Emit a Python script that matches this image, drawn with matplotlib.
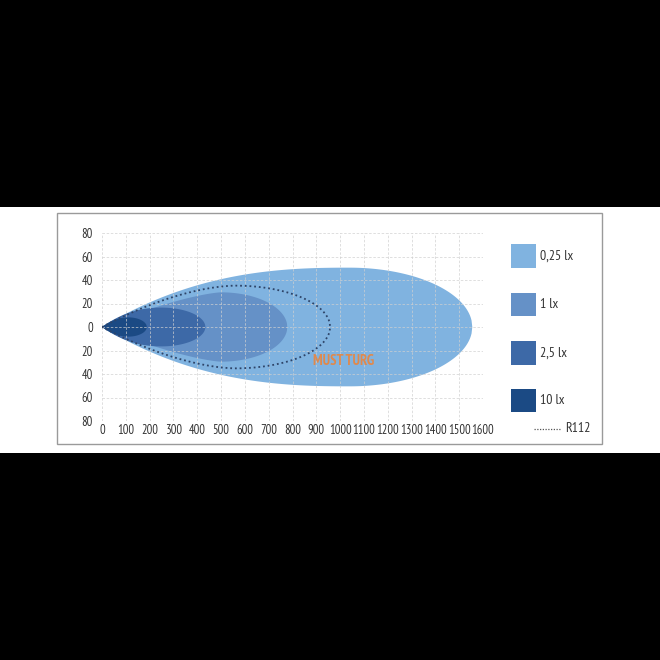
import numpy as np
import matplotlib
matplotlib.use("Agg")
import matplotlib.pyplot as plt
from matplotlib.patches import Rectangle
from matplotlib import font_manager

# ---- data ----
levels = ["0,25 lx", "1 lx", "2,5 lx", "10 lx"]
reach = [1555, 778, 434, 188]          # m, tip of each isolux zone
half_width = [50.5, 29.5, 16.5, 8.2]   # m, max half width
peak_at = [1040, 500, 250, 110]        # m, where the zone is widest
tip_shape = [2.5, 1.4, 2.2, 2.0]       # how fast each zone opens from the lamp
colors = ["#80b3e0", "#6591c7", "#3d69a7", "#1b4a84"]

r112_label = "R112"
r112_reach = 958
r112_half_width = 35.2
r112_peak = 560
r112_tip_shape = 1.7

watermark = "MUST TURG"

x_ticks = list(range(0, 1601, 100))
y_ticks = [-80, -60, -40, -20, 0, 20, 40, 60, 80]
y_tick_labels = ["80", "60", "40", "20", "0", "20", "40", "60", "80"]

entries = font_manager.fontManager.ttflist
def pick(cands, default="Roboto"):
    for c in cands:
        if any(f.name == c and f.weight in (400, "normal", "regular") and f.style == "normal"
               for f in entries):
            return c
    return default

narrow = pick(["PT Sans Narrow", "Roboto"])
is_narrow = narrow == "PT Sans Narrow"
tick_size = 9.0 if is_narrow else 7.0
leg_size = 10.0 if is_narrow else 8.0
plt.rcParams["font.family"] = [narrow, "DejaVu Sans"]

def outline(L, W, P, n, npts=500):
    t = np.linspace(0, 1, npts)
    p = P / L
    g = np.where(t <= p,
                 1 - (1 - np.clip(t / p, 0, 1)) ** n,
                 np.sqrt(np.clip(1 - ((t - p) / (1 - p)) ** 2, 0, 1)))
    x = L * t
    y = W * g
    xs = np.concatenate([x, x[::-1]])
    ys = np.concatenate([y, -y[::-1]])
    return xs, ys

fig = plt.figure(figsize=(6.6, 6.6), dpi=100, facecolor="black")

fig.add_artist(Rectangle((0, 1 - 453 / 660), 1, 246 / 660, transform=fig.transFigure,
                         facecolor="white", edgecolor="none", zorder=-2))
fig.add_artist(Rectangle((57 / 660, 1 - 444 / 660), 545 / 660, 231 / 660, transform=fig.transFigure,
                         facecolor="white", edgecolor="#9a9a9a", lw=1.0, zorder=-1))

ax = fig.add_axes([102 / 660, 1 - 421 / 660, 381 / 660, 188 / 660])
ax.set_zorder(5)
ax.set_facecolor("none")
ax.set_xlim(0, 1600)
ax.set_ylim(-80, 80)

for L, W, P, n, c in zip(reach, half_width, peak_at, tip_shape, colors):
    xs, ys = outline(L, W, P, n)
    ax.fill(xs, ys, color=c, lw=0, zorder=2)

xs, ys = outline(r112_reach, r112_half_width, r112_peak, r112_tip_shape)
ax.plot(xs, ys, color="#2e4468", lw=1.3, linestyle=(0, (1, 1.6)), zorder=4)

ax.text(888, -28.7, watermark, color="#e0894c", fontsize=10.5, fontweight="bold",
        ha="left", va="center", zorder=5)

ax.set_xticks(x_ticks)
ax.set_xticklabels([str(v) for v in x_ticks])
ax.set_yticks(y_ticks)
ax.set_yticklabels(y_tick_labels)
ax.tick_params(length=0, labelsize=tick_size, colors="#333333")
ax.tick_params(axis="x", pad=2.5)
ax.tick_params(axis="y", pad=6.5)
ax.grid(True, color="#d0d0d0", lw=0.6, linestyle=(0, (3, 2)), alpha=0.8, zorder=3)
ax.set_axisbelow(False)
for s in ax.spines.values():
    s.set_visible(False)

patch_tops = [244, 292.5, 341, 388.5]
for lab, c, top in zip(levels, colors, patch_tops):
    fig.add_artist(Rectangle((511 / 660, 1 - (top + 23.5) / 660), 24.5 / 660, 23.5 / 660,
                             transform=fig.transFigure, facecolor=c, edgecolor="none", zorder=3))
    fig.text(540 / 660, 1 - (top + 12) / 660, lab, fontsize=leg_size, color="#333333",
             ha="left", va="center", zorder=4)
fig.add_artist(plt.Line2D([534 / 660, 561 / 660], [1 - 429 / 660, 1 - 429 / 660],
                          transform=fig.transFigure, color="#555555", lw=0.9,
                          linestyle=(0, (1, 1.2)), zorder=4))
fig.text(565 / 660, 1 - 429 / 660, r112_label, fontsize=leg_size, color="#333333",
         ha="left", va="center", zorder=4)

fig.savefig("out.png", dpi=100, facecolor="black")
